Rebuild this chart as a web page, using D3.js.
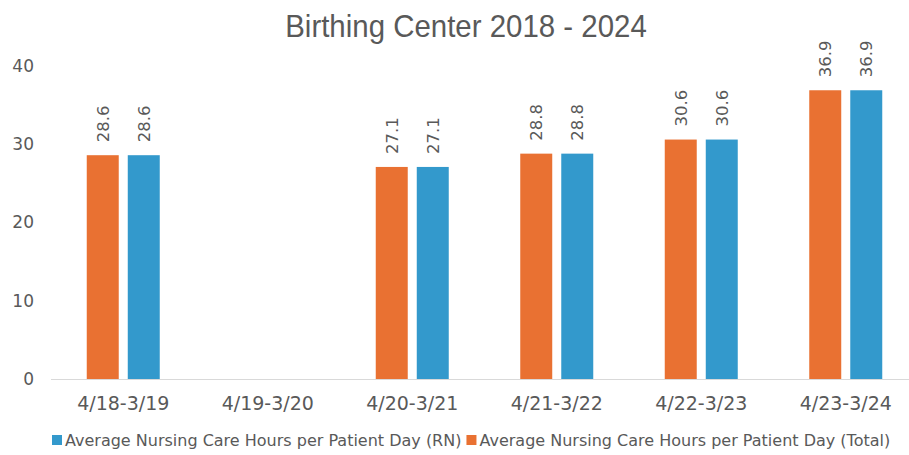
<!DOCTYPE html>
<html lang="en">
<head>
<meta charset="utf-8">
<title>Birthing Center 2018 - 2024</title>
<script src="https://cdn.jsdelivr.net/npm/d3@7"></script>
<style>
  body { margin: 0; background: #fff; }
  .axis text, .lbl, .legend text { font-family: "DejaVu Sans", sans-serif; fill: #595959; }
  .title { font-family: "Liberation Sans", sans-serif; fill: #595959; }
</style>
</head>
<body>
<script>
// data
var periods = ["4/18-3/19", "4/19-3/20", "4/20-3/21", "4/21-3/22", "4/22-3/23", "4/23-3/24"];
var totalHours = [28.6, null, 27.1, 28.8, 30.6, 36.9];
var rnHours = [28.6, null, 27.1, 28.8, 30.6, 36.9];
var yTicks = [0, 10, 20, 30, 40];
var seriesNames = ["Average Nursing Care Hours per Patient Day (RN)", "Average Nursing Care Hours per Patient Day (Total)"];

var w = 909, h = 455;
var plotLeft = 51, plotRight = 918, plotTop = 66, plotBottom = 379;

var svg = d3.select("body").append("svg")
  .attr("width", w)
  .attr("height", h);

var x = d3.scaleBand().domain(periods).range([plotLeft, plotRight]);
var cw = x.bandwidth();
// orange (Total) first, then blue (RN)
var keys = ["total", "rn"];
var colors = { total: "#E97132", rn: "#3399CC" };
var x1 = d3.scaleBand().domain(keys).range([cw / 2 - 36.5, cw / 2 + 36.5]).paddingInner(0.22);
var y = d3.scaleLinear().domain([0, 40]).range([plotBottom, plotTop]);

// title (condensed look)
svg.append("text")
  .attr("class", "title")
  .attr("transform", "translate(466,37) scale(0.92,1)")
  .attr("text-anchor", "middle")
  .style("font-size", "32px")
  .text("Birthing Center 2018 - 2024");

// y axis labels only
var gY = svg.append("g")
  .attr("class", "axis")
  .attr("transform", "translate(" + plotLeft + ",0)")
  .call(d3.axisLeft(y).tickValues(yTicks).tickSize(0).tickPadding(17));
gY.select(".domain").remove();
gY.selectAll("text").style("font-size", "17px");

// baseline
svg.append("line")
  .attr("x1", plotLeft).attr("x2", plotRight)
  .attr("y1", y(0) + 0.5).attr("y2", y(0) + 0.5)
  .attr("stroke", "#D9D9D9").attr("stroke-width", 1);

// x labels
var gX = svg.append("g")
  .attr("class", "axis")
  .attr("transform", "translate(0," + plotBottom + ")")
  .call(d3.axisBottom(x).tickSize(0).tickPadding(18));
gX.select(".domain").remove();
gX.selectAll("text").style("font-size", "19px");

var rows = periods.map(function(p, i) {
  return { period: p, total: totalHours[i], rn: rnHours[i] };
});

var groups = svg.append("g").selectAll("g")
  .data(rows)
  .enter().append("g")
  .attr("transform", function(d) { return "translate(" + x(d.period) + ",0)"; });

var cells = groups.selectAll("g")
  .data(function(d) {
    return keys.filter(function(k) { return d[k] != null; })
      .map(function(k) { return { key: k, value: d[k] }; });
  })
  .enter().append("g");

cells.append("rect")
  .attr("x", function(d) { return x1(d.key); })
  .attr("width", x1.bandwidth())
  .attr("y", function(d) { return y(d.value); })
  .attr("height", function(d) { return y(0) - y(d.value); })
  .attr("fill", function(d) { return colors[d.key]; });

cells.append("text")
  .attr("class", "lbl")
  .attr("transform", function(d) {
    return "translate(" + (x1(d.key) + x1.bandwidth() / 2) + "," + (y(d.value) - 13) + ") rotate(-90)";
  })
  .attr("dy", "0.35em")
  .style("font-size", "16.5px")
  .text(function(d) { return d.value.toFixed(1); });

// legend
var legend = svg.append("g").attr("class", "legend").attr("transform", "translate(52,440)");
var legendKeys = ["rn", "total"];
var lx = 0;
legendKeys.forEach(function(k, i) {
  var g = legend.append("g").attr("transform", "translate(" + lx + ",0)");
  g.append("rect").attr("x", 0).attr("y", -5).attr("width", 10).attr("height", 10).attr("fill", colors[k]);
  var t = g.append("text").attr("x", 13).attr("dy", "0.35em").style("font-size", "16px").text(seriesNames[i]);
  lx += 13 + t.node().getComputedTextLength() + 5;
});
</script>
</body>
</html>
